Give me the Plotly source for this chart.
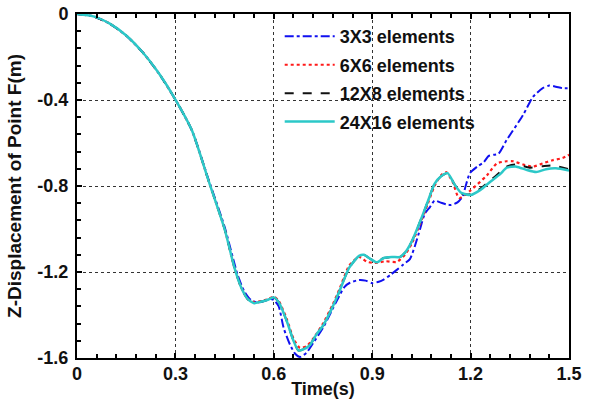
import plotly.graph_objects as go

# ---------------- data ----------------
t_24x16 = [0, 0.05, 0.1, 0.15, 0.2, 0.25, 0.3, 0.35, 0.4, 0.45, 0.48, 0.50, 0.52, 0.54,
           0.56, 0.58, 0.60, 0.615, 0.64, 0.66, 0.675, 0.69, 0.71, 0.73, 0.75, 0.78,
           0.80, 0.83, 0.86, 0.875, 0.895, 0.915, 0.935, 0.96, 0.985, 1.0, 1.02, 1.05,
           1.07, 1.09, 1.11, 1.13, 1.15, 1.17, 1.2, 1.23, 1.26, 1.29, 1.31, 1.34, 1.37,
           1.40, 1.43, 1.46, 1.5]
z_24x16 = [0, -0.011, -0.045, -0.10, -0.178, -0.277, -0.398, -0.54, -0.77, -1.0, -1.18,
           -1.27, -1.325, -1.345, -1.338, -1.33, -1.318, -1.34, -1.43, -1.52, -1.565,
           -1.56, -1.54, -1.49, -1.45, -1.36, -1.29, -1.18, -1.125, -1.12, -1.14, -1.155,
           -1.135, -1.13, -1.13, -1.11, -1.06, -0.95, -0.87, -0.79, -0.755, -0.74, -0.79,
           -0.83, -0.842, -0.818, -0.78, -0.745, -0.715, -0.71, -0.725, -0.735, -0.722,
           -0.718, -0.728]

t_12x8 = [0, 0.05, 0.1, 0.15, 0.2, 0.25, 0.3, 0.35, 0.4, 0.45, 0.48, 0.50, 0.52, 0.54,
          0.56, 0.58, 0.60, 0.615, 0.64, 0.66, 0.675, 0.69, 0.71, 0.73, 0.75, 0.78,
          0.80, 0.83, 0.86, 0.875, 0.895, 0.915, 0.935, 0.96, 0.985, 1.0, 1.02, 1.05,
          1.07, 1.09, 1.11, 1.13, 1.15, 1.17, 1.2, 1.23, 1.26, 1.29, 1.31, 1.34, 1.38,
          1.42, 1.45, 1.5]
z_12x8 = [0, -0.011, -0.045, -0.10, -0.178, -0.277, -0.398, -0.54, -0.77, -1.0, -1.18,
          -1.27, -1.325, -1.345, -1.338, -1.33, -1.318, -1.34, -1.43, -1.52, -1.565,
          -1.56, -1.54, -1.49, -1.45, -1.36, -1.29, -1.18, -1.125, -1.12, -1.14, -1.15,
          -1.135, -1.13, -1.13, -1.11, -1.06, -0.95, -0.87, -0.79, -0.755, -0.74, -0.79,
          -0.835, -0.838, -0.812, -0.775, -0.735, -0.71, -0.70, -0.715, -0.708, -0.705,
          -0.722]

t_6x6 = [0, 0.05, 0.1, 0.15, 0.2, 0.25, 0.3, 0.35, 0.4, 0.45, 0.48, 0.50, 0.52, 0.54,
         0.56, 0.58, 0.60, 0.615, 0.64, 0.66, 0.68, 0.70, 0.72, 0.75, 0.78, 0.80, 0.83,
         0.86, 0.885, 0.91, 0.94, 0.975, 1.0, 1.02, 1.05, 1.07, 1.09, 1.11, 1.125,
         1.145, 1.165, 1.2, 1.25, 1.28, 1.31, 1.33, 1.36, 1.39, 1.42, 1.45, 1.48, 1.5]
z_6x6 = [0, -0.011, -0.045, -0.10, -0.178, -0.277, -0.398, -0.54, -0.77, -1.0, -1.18,
         -1.27, -1.325, -1.34, -1.335, -1.328, -1.315, -1.335, -1.42, -1.51, -1.553,
         -1.545, -1.51, -1.44, -1.35, -1.28, -1.17, -1.13, -1.153, -1.158, -1.15,
         -1.153, -1.12, -1.07, -0.96, -0.88, -0.80, -0.75, -0.735, -0.78, -0.856,
         -0.82, -0.75, -0.695, -0.685, -0.685, -0.70, -0.71, -0.695, -0.68, -0.67,
         -0.655]

t_3x3 = [0, 0.05, 0.1, 0.15, 0.2, 0.25, 0.3, 0.35, 0.4, 0.45, 0.49, 0.51, 0.53, 0.55,
         0.57, 0.59, 0.60, 0.615, 0.63, 0.65, 0.665, 0.68, 0.70, 0.72, 0.75, 0.78,
         0.80, 0.815, 0.832, 0.86, 0.88, 0.9, 0.92, 0.935, 0.955, 0.975, 0.995, 1.015,
         1.03, 1.046, 1.06, 1.076, 1.09, 1.107, 1.125, 1.14, 1.16, 1.175, 1.185, 1.198,
         1.22, 1.24, 1.255, 1.27, 1.285, 1.31, 1.36, 1.39, 1.42, 1.44, 1.46, 1.48, 1.5]
z_3x3 = [0, -0.011, -0.045, -0.10, -0.178, -0.277, -0.398, -0.54, -0.765, -0.99, -1.215,
         -1.29, -1.33, -1.342, -1.335, -1.325, -1.33, -1.36, -1.46, -1.54, -1.58, -1.595,
         -1.575, -1.53, -1.46, -1.37, -1.31, -1.27, -1.25, -1.237, -1.24, -1.252,
         -1.245, -1.235, -1.214, -1.19, -1.165, -1.14, -1.08, -1.0, -0.93, -0.898,
         -0.868, -0.876, -0.885, -0.888, -0.876, -0.85, -0.80, -0.74, -0.71, -0.69,
         -0.66, -0.655, -0.65, -0.586, -0.47, -0.386, -0.345, -0.333, -0.338, -0.345,
         -0.345]

series_names = ["3X3 elements", "6X6 elements", "12X8 elements", "24X16 elements"]
x_ticks = [0, 0.3, 0.6, 0.9, 1.2, 1.5]
x_ticklabels = ["0", "0.3", "0.6", "0.9", "1.2", "1.5"]
y_ticks = [0, -0.4, -0.8, -1.2, -1.6]
y_ticklabels = ["0", "-0.4", "-0.8", "-1.2", "-1.6"]

# ---------------- figure ----------------
FONT = "Liberation Sans, Arial, sans-serif"
fig = go.Figure()

styles = [
    (t_3x3, z_3x3, "#1010F0", "dashdot", 2),
    (t_6x6, z_6x6, "#FF1A1A", "dot", 2.2),
    (t_12x8, z_12x8, "#111111", "dash", 2),
    (t_24x16, z_24x16, "#2CC8C8", "solid", 2.5),
]
for i, (name, (tx, zy, col, dash, w)) in enumerate(zip(series_names, styles)):
    fig.add_trace(go.Scatter(
        x=tx, y=zy, mode="lines", name=name, legendgroup=str(i),
        line=dict(color=col, dash=dash, width=w, shape="spline", smoothing=0.6),
    ))

# white box behind the legend, hiding gridlines there
fig.add_shape(type="rect", xref="paper", yref="paper",
              x0=0.404, x1=0.843, y0=0.634, y1=1.0,
              fillcolor="white", line=dict(width=0), layer="between")

axis_common = dict(
    showline=True, linecolor="black", linewidth=2,
    ticks="inside", tickcolor="black", tickwidth=1.5, ticklen=5,
    showgrid=True, gridcolor="#333333", gridwidth=1, griddash="3px,3px",
    zeroline=False, automargin=False,
    tickfont=dict(family=FONT, size=18, color="#111111", weight="bold"),
)

fig.update_layout(
    width=592, height=399,
    margin=dict(l=77, r=23, t=14, b=41, autoexpand=False),
    paper_bgcolor="white", plot_bgcolor="white",
    font=dict(family=FONT, color="#111111"),
    xaxis=dict(
        range=[0, 1.5], tickvals=x_ticks, ticktext=x_ticklabels,
        mirror="allticks", ticklabelstandoff=-2,
        minor=dict(dtick=0.06, tick0=0, ticks="inside", ticklen=4,
                   tickcolor="black", tickwidth=1.5, showgrid=False),
        title=dict(text="Time(s)", standoff=8,
                   font=dict(family=FONT, size=18, color="#111111", weight="bold")),
        **axis_common,
    ),
    yaxis=dict(
        range=[-1.6, 0], tickvals=y_ticks, ticktext=y_ticklabels,
        mirror=True, ticklabelstandoff=3,
        minor=dict(dtick=0.08, tick0=0, ticks="inside", ticklen=4,
                   tickcolor="black", tickwidth=1.5, showgrid=False),
        title=dict(text="Z-Displacement of Point F(m)", standoff=11,
                   font=dict(family=FONT, size=19, color="#111111", weight="bold")),
        **axis_common,
    ),
    yaxis2=dict(
        overlaying="y", side="right", range=[-1.6, 0], automargin=False,
        dtick=0.04, tick0=0, ticks="inside", ticklen=4, tickwidth=1.5,
        tickcolor="black", showticklabels=False, showgrid=False,
        zeroline=False, showline=False,
    ),
    legend=dict(
        x=0.412, y=0.988, xanchor="left", yanchor="top",
        bgcolor="rgba(255,255,255,0)", borderwidth=0,
        font=dict(family=FONT, size=18, color="#111111", weight="bold"),
        itemwidth=50, tracegroupgap=2, traceorder="grouped",
    ),
    showlegend=True,
)

fig.write_html("out.html")
